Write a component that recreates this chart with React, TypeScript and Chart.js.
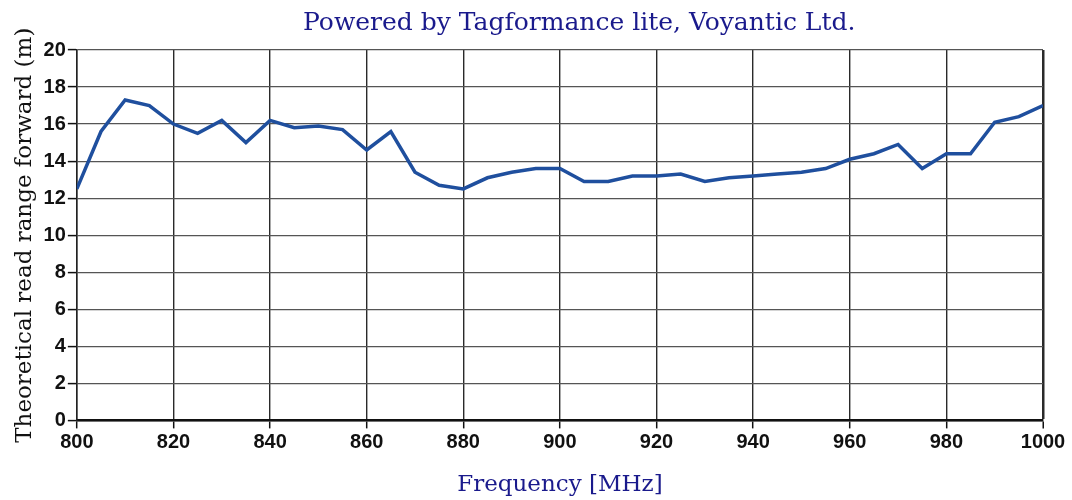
import React, { useEffect, useRef } from 'react';
import { Chart, registerables } from 'chart.js';

Chart.register(...registerables);

const frequencies = [
  800, 805, 810, 815, 820, 825, 830, 835, 840, 845, 850, 855, 860, 865, 870, 875, 880, 885, 890, 895,
  900, 905, 910, 915, 920, 925, 930, 935, 940, 945, 950, 955, 960, 965, 970, 975, 980, 985, 990, 995, 1000,
];
const readRange = [
  12.5, 15.6, 17.3, 17.0, 16.0, 15.5, 16.2, 15.0, 16.2, 15.8, 15.9, 15.7, 14.6, 15.6, 13.4, 12.7, 12.5, 13.1, 13.4, 13.6,
  13.6, 12.9, 12.9, 13.2, 13.2, 13.3, 12.9, 13.1, 13.2, 13.3, 13.4, 13.6, 14.1, 14.4, 14.9, 13.6, 14.4, 14.4, 16.1, 16.4, 17.0,
];
const xRange = [800, 1000];
const yRange = [0, 20];
const xStep = 20;
const yStep = 2;

const titleText = 'Powered by Tagformance lite, Voyantic Ltd.';
const xTitle = 'Frequency [MHz]';
const yTitle = 'Theoretical read range forward (m)';

const NAVY = '#1a1a8c';
const LINE = '#1f4f9e';
const SERIF = '"DejaVu Serif", "Liberation Serif", serif';
const SANS = '"Liberation Sans", Arial, sans-serif';

const titlePlugin = {
  id: 'topTitle',
  afterDraw(chart: any) {
    const { ctx, chartArea } = chart;
    ctx.save();
    ctx.font = `25px ${SERIF}`;
    ctx.fillStyle = NAVY;
    ctx.textAlign = 'center';
    ctx.textBaseline = 'middle';
    ctx.fillText(titleText, chartArea.left + chartArea.width * 0.52, chartArea.top - 27);
    ctx.restore();
  },
};

export default function App() {
  const ref = useRef<HTMLCanvasElement | null>(null);

  useEffect(() => {
    document.body.style.margin = '0';
    const canvas = ref.current;
    if (!canvas) return;
    const chart = new Chart(canvas, {
      type: 'line',
      data: {
        datasets: [
          {
            data: frequencies.map((f, i) => ({ x: f, y: readRange[i] })),
            borderColor: LINE,
            borderWidth: 3.5,
            pointRadius: 0,
            tension: 0,
            fill: false,
          },
        ],
      },
      plugins: [titlePlugin],
      options: {
        animation: false,
        responsive: false,
        maintainAspectRatio: false,
        layout: { padding: { top: 50, right: 29, bottom: 1, left: 11 } },
        plugins: {
          legend: { display: false },
          tooltip: { enabled: false },
          title: { display: false },
        },
        scales: {
          x: {
            type: 'linear',
            min: xRange[0],
            max: xRange[1],
            ticks: {
              stepSize: xStep,
              color: '#111',
              font: { family: SANS, size: 20, weight: 'bold' },
              padding: 2,
              maxRotation: 0,
              callback: (v: any) => String(v),
            },
            grid: {
              color: '#2a2a2a',
              lineWidth: (c: any) => (c.tick && c.tick.value === xRange[1] ? 2.5 : 1.4),
              tickLength: 8,
              tickColor: '#111',
              tickWidth: 1.5,
            },
            border: { color: '#111', width: 2.5 },
            title: {
              display: true,
              text: xTitle,
              color: NAVY,
              font: { family: SERIF, size: 23 },
              padding: { top: 15, bottom: 0 },
            },
          },
          y: {
            min: yRange[0],
            max: yRange[1],
            ticks: {
              stepSize: yStep,
              color: '#111',
              font: { family: SANS, size: 20, weight: 'bold' },
              padding: 2,
              callback: (v: any) => String(v),
            },
            grid: {
              color: '#555',
              lineWidth: 1.2,
              tickLength: 9,
              tickColor: '#111',
              tickWidth: 1.5,
            },
            border: { color: '#222', width: 1.5 },
            title: {
              display: true,
              text: yTitle,
              color: '#111',
              font: { family: SERIF, size: 23 },
              padding: { top: 0, bottom: 3 },
            },
          },
        },
      },
    });
    return () => chart.destroy();
  }, []);

  return (
    <div style={{ position: 'fixed', left: 0, top: 0, width: 1072, height: 500, background: '#fff' }}>
      <canvas ref={ref} width={1072} height={500} style={{ width: 1072, height: 500 }} />
    </div>
  );
}
